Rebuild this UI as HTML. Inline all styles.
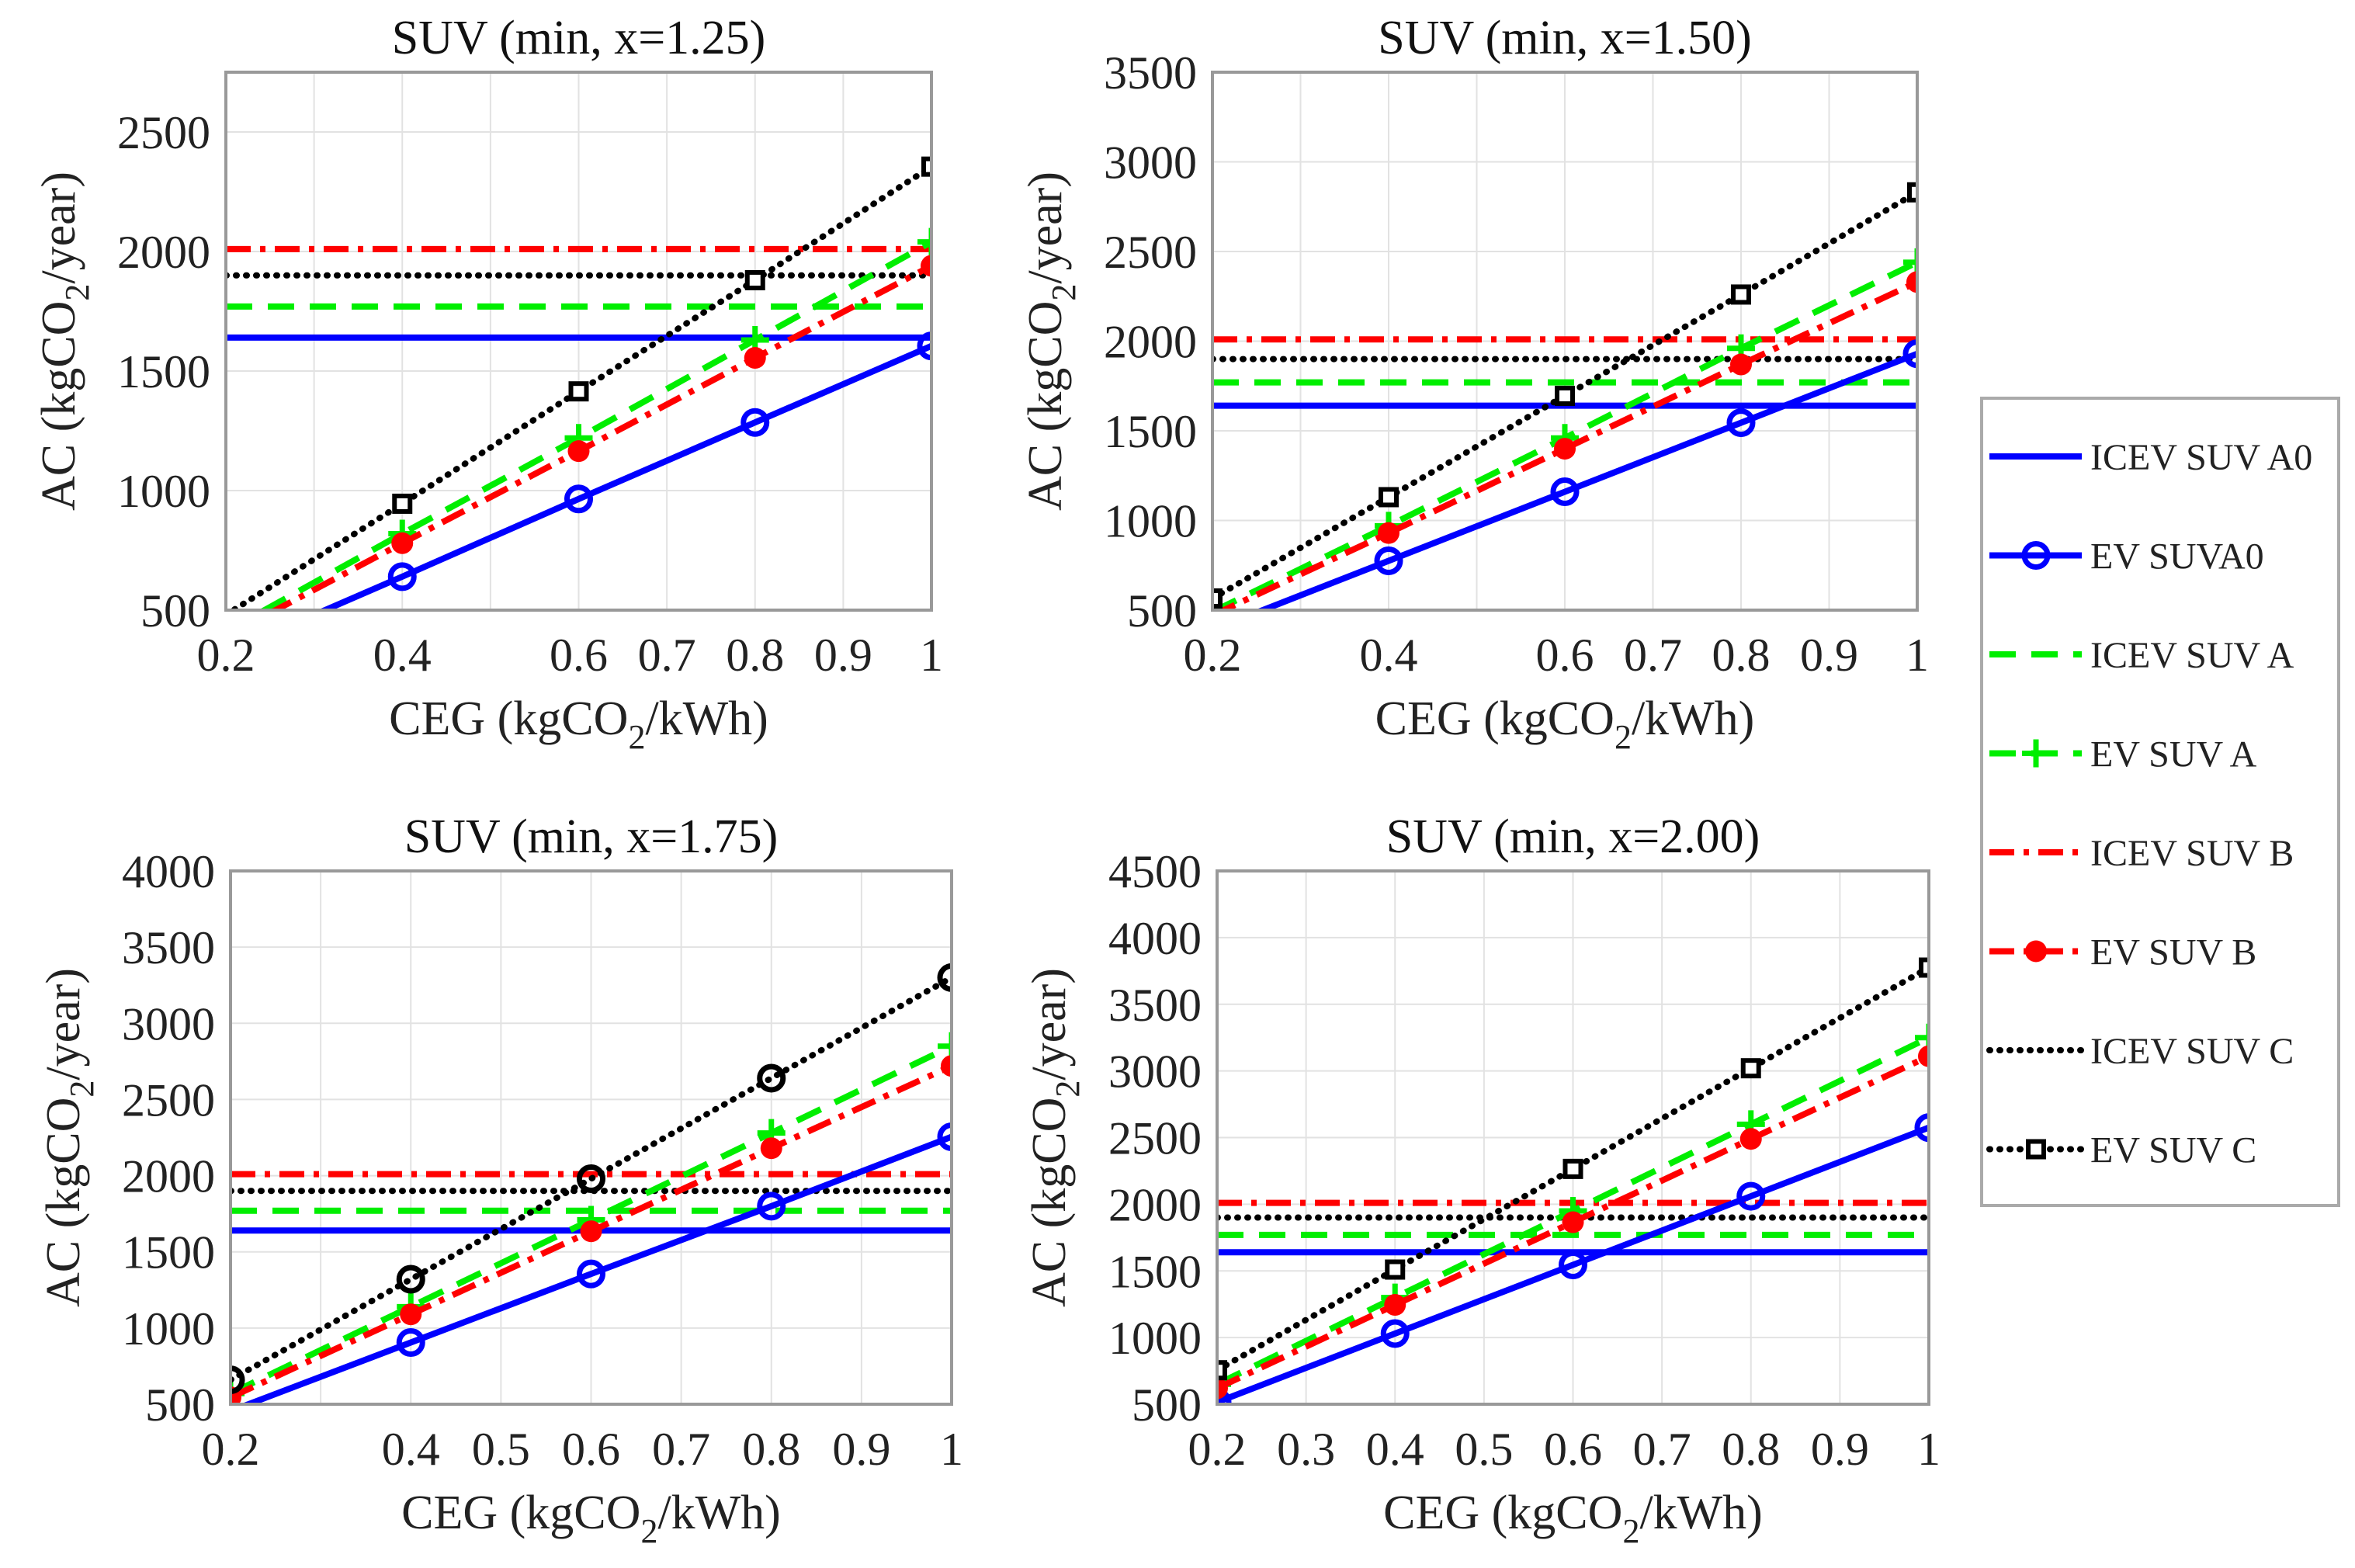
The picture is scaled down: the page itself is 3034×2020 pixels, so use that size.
<!DOCTYPE html>
<html><head><meta charset="utf-8"><style>
html,body{margin:0;padding:0;background:#fff;}
svg{display:block;font-family:"Liberation Serif",serif;}
</style></head><body>
<svg id="fig" width="3034" height="2020" viewBox="0 0 3034 2020" xmlns="http://www.w3.org/2000/svg"></svg>
<script>
// ---- data ----
const xCats = [0.2, 0.4, 0.6, 0.8, 1.0];
const icevA0 = 1640, icevA = 1770, icevB = 2010, icevC = 1900;
const p1_A0 = [320, 640, 965, 1285, 1605];
const p1_A  = [410, 820, 1220, 1630, 2040];
const p1_B  = [390, 780, 1165, 1555, 1940];
const p1_C  = [480, 945, 1415, 1880, 2355];
const p2_A0 = [390, 775, 1160, 1545, 1930];
const p2_A  = [490, 970, 1460, 1960, 2440];
const p2_B  = [470, 930, 1400, 1870, 2330];
const p2_C  = [565, 1130, 1695, 2260, 2830];
const p3_A0 = [455, 905, 1355, 1800, 2255];
const p3_A  = [570, 1140, 1710, 2280, 2850];
const p3_B  = [545, 1090, 1635, 2180, 2720];
const p3_C  = [660, 1320, 1980, 2640, 3300];
const p4_A0 = [515, 1030, 1545, 2060, 2575];
const p4_A  = [650, 1300, 1950, 2600, 3250];
const p4_B  = [620, 1245, 1865, 2490, 3110];
const p4_C  = [755, 1510, 2265, 3020, 3775];
const xt1 = [0.2,0.4,0.6,0.7,0.8,0.9,1];
const xt3 = [0.2,0.4,0.5,0.6,0.7,0.8,0.9,1];
const xt4 = [0.2,0.3,0.4,0.5,0.6,0.7,0.8,0.9,1];
const yt1 = [500,1000,1500,2000,2500];
const yt2 = [500,1000,1500,2000,2500,3000,3500];
const yt3 = [500,1000,1500,2000,2500,3000,3500,4000];
const yt4 = [500,1000,1500,2000,2500,3000,3500,4000,4500];
const titles = ["SUV (min, x=1.25)","SUV (min, x=1.50)","SUV (min, x=1.75)","SUV (min, x=2.00)"];

const NS="http://www.w3.org/2000/svg";
const svg=document.getElementById('fig');
function mk(tag,attrs,parent){const e=document.createElementNS(NS,tag);for(const k in attrs)e.setAttribute(k,attrs[k]);(parent||svg).appendChild(e);return e;}
const styles={
 A0:{c:"#0000ff",dash:null},
 A:{c:"#00ee00",dash:"34,20"},
 B:{c:"#ff0000",dash:"32,12,7,12"},
 C:{c:"#000000",dash:"1,12"}
};
const LW=8;
function marker(g,kind,cx,cy,col,mt){
  if(mt==="o"){const m=mk('circle',{cx:cx,cy:cy,r:15,fill:"none",stroke:col,"stroke-width":7},g);}
  else if(mt==="+"){const m=mk('path',{d:`M${cx-18},${cy}H${cx+18}M${cx},${cy-18}V${cy+18}`,stroke:col,"stroke-width":7},g);}
  else if(mt==="*"){const m=mk('circle',{cx:cx,cy:cy,r:14,fill:col},g);}
  else if(mt==="s"){const m=mk('rect',{x:cx-10,y:cy-10,width:20,height:20,fill:"#fff",stroke:col,"stroke-width":6},g);}
}
const panels=[
 {L:291,R:1200,T:93,B:786,ymax:2750,xt:xt1,yt:yt1,d:[p1_A0,p1_A,p1_B,p1_C],cm:"s",ylx:74},
 {L:1562,R:2470,T:93,B:786,ymax:3500,xt:xt1,yt:yt2,d:[p2_A0,p2_A,p2_B,p2_C],cm:"s",ylx:1345},
 {L:297,R:1226,T:1122,B:1809,ymax:4000,xt:xt3,yt:yt3,d:[p3_A0,p3_A,p3_B,p3_C],cm:"o",ylx:80},
 {L:1568,R:2485,T:1122,B:1809,ymax:4500,xt:xt4,yt:yt4,d:[p4_A0,p4_A,p4_B,p4_C],cm:"s",ylx:1350}
];
panels.forEach((p,i)=>{
  const g=mk('g',{});
  
  
  const xs=v=>p.L+(v-0.2)/0.8*(p.R-p.L);
  const ys=v=>p.B-(v-500)/(p.ymax-500)*(p.B-p.T);
  mk('rect',{x:p.L,y:p.T,width:p.R-p.L,height:p.B-p.T,fill:"#fff"},g);
  for(let k=3;k<=9;k++){const x=xs(k/10);mk('line',{x1:x,x2:x,y1:p.T,y2:p.B,stroke:"#e2e2e2","stroke-width":2},g);}
  p.yt.forEach(v=>{const y=ys(v);mk('line',{x1:p.L,x2:p.R,y1:y,y2:y,stroke:"#e2e2e2","stroke-width":2},g);});
  const cid='clip'+i;
  const cp=mk('clipPath',{id:cid},g);mk('rect',{x:p.L,y:p.T,width:p.R-p.L,height:p.B-p.T},cp);
  const dg=mk('g',{"clip-path":`url(#${cid})`},g);
  const keys=["A0","A","B","C"];const hv=[icevA0,icevA,icevB,icevC];
  keys.forEach((k,j)=>{
    const s=styles[k];
    const h=mk('line',{x1:p.L,x2:p.R,y1:ys(hv[j]),y2:ys(hv[j]),stroke:s.c,"stroke-width":LW,"stroke-dasharray":s.dash||"none","stroke-linecap":k==="C"?"round":"butt"},dg);
    
    
  });
  const mts=["o","+","*",p.cm];
  keys.forEach((k,j)=>{
    const s=styles[k];const arr=p.d[j];
    const pts=arr.map((v,n)=>xs(xCats[n])+","+ys(v)).join(" ");
    const pl=mk('polyline',{points:pts,fill:"none",stroke:s.c,"stroke-width":LW,"stroke-dasharray":s.dash||"none","stroke-linecap":k==="C"?"round":"butt"},dg);
    
    
    arr.forEach((v,n)=>{if(v>=500)marker(dg,k,xs(xCats[n]),ys(v),s.c,mts[j]);});
  });
  mk('rect',{x:p.L,y:p.T,width:p.R-p.L,height:p.B-p.T,fill:"none",stroke:"#999","stroke-width":4},g);
  p.xt.forEach(v=>{const t=mk('text',{x:xs(v),y:p.B+78,"text-anchor":"middle","font-size":60,fill:"#222"},g);t.textContent=(v===1?"1":String(v));});
  p.yt.forEach(v=>{const t=mk('text',{x:p.L-20,y:ys(v)+21,"text-anchor":"end","font-size":60,fill:"#222"},g);t.textContent=v;});
  const tt=mk('text',{x:(p.L+p.R)/2,y:p.T-24,"text-anchor":"middle","font-size":62,fill:"#111"},g);tt.textContent=titles[i];
  
  const xl=mk('text',{x:(p.L+p.R)/2,y:p.B+160,"text-anchor":"middle","font-size":62,fill:"#222"},g);
  
  xl.innerHTML='CEG (kgCO<tspan dy="18" font-size="44">2</tspan><tspan dy="-18">/kWh)</tspan>';
  const cy=(p.T+p.B)/2;
  const yl=mk('text',{x:0,y:0,"text-anchor":"middle","font-size":62,fill:"#222",transform:`translate(${p.ylx+22},${cy}) rotate(-90)`},g);
  
  yl.innerHTML='AC (kgCO<tspan dy="18" font-size="44">2</tspan><tspan dy="-18">/year)</tspan>';
});
const lg=mk('g',{});


mk('rect',{x:2553,y:513,width:460,height:1040,fill:"#fff",stroke:"#aaa","stroke-width":4},lg);
const legNames=["ICEV SUV A0","EV SUVA0","ICEV SUV A","EV SUV A","ICEV SUV B","EV SUV B","ICEV SUV C","EV SUV C"];
const legKeys=["A0","A0","A","A","B","B","C","C"];
const legM=[null,"o",null,"+",null,"*",null,"s"];
legNames.forEach((n,i)=>{
  const y=588+i*127.5;const s=styles[legKeys[i]];
  const e=mk('g',{},lg);
  
  
  mk('line',{x1:2563,x2:2682,y1:y,y2:y,stroke:s.c,"stroke-width":LW,"stroke-dasharray":s.dash||"none","stroke-linecap":legKeys[i]==="C"?"round":"butt"},e);
  if(legM[i])marker(e,legKeys[i],2623,y,s.c,legM[i]);
  const t=mk('text',{x:2693,y:y+17,"font-size":48,fill:"#222"},e);t.textContent=n;
});
</script>
</body></html>
